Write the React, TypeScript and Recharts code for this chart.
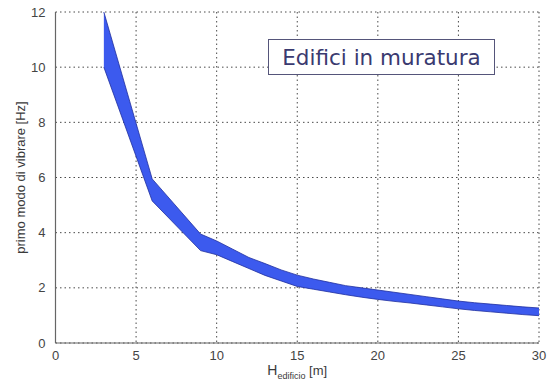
import React from "react";
import {
  ComposedChart,
  Area,
  XAxis,
  YAxis,
  CartesianGrid,
  Label,
} from "recharts";

const heights = [3, 6, 9, 10, 11, 12, 13, 14, 15, 16, 17, 18, 19, 20, 21, 22, 23, 24, 25, 26, 27, 28, 29, 30];
const upperFreq = [12, 5.95, 3.95, 3.7, 3.4, 3.1, 2.88, 2.65, 2.46, 2.32, 2.2, 2.08, 2.0, 1.92, 1.84, 1.76, 1.68, 1.6, 1.52, 1.46, 1.41, 1.36, 1.31, 1.27];
const lowerFreq = [10, 5.15, 3.35, 3.2, 2.95, 2.7, 2.45, 2.25, 2.05, 1.95, 1.85, 1.75, 1.66, 1.58, 1.51, 1.45, 1.38, 1.31, 1.24, 1.18, 1.13, 1.08, 1.03, 0.99];
const xTicks = [0, 5, 10, 15, 20, 25, 30];
const yTicks = [0, 2, 4, 6, 8, 10, 12];
const legendText = "Edifici in muratura";
const yLabel = "primo modo di vibrare [Hz]";

const data = heights.map((h, i) => ({ h, band: [lowerFreq[i], upperFreq[i]] }));

const FONT = "'Liberation Sans', Arial, sans-serif";

const XLabel = (props: any) => {
  const vb = props.viewBox || {};
  const cx = vb.x + vb.width / 2;
  const y = vb.y + vb.height + 2;
  return (
    <text x={cx} y={y} textAnchor="middle" fontFamily={FONT} fontSize={13} fill="#3a3a3a">
      <tspan fontSize={14}>H</tspan>
      <tspan fontSize={9} dy={4}>edificio</tspan>
      <tspan fontSize={13} dy={-4}> [m]</tspan>
    </text>
  );
};

const axisLine = { stroke: "#666", strokeWidth: 1.2 };

export default function App() {
  return (
    <div style={{ position: "absolute", left: 0, top: 0, width: 548, height: 381, background: "#fff" }}>
      <ComposedChart
        width={548}
        height={381}
        data={data}
        margin={{ top: 12, right: 9, bottom: 8, left: 0 }}
      >
        <CartesianGrid stroke="#4a4a4a" strokeDasharray="1.5 3" strokeWidth={1} />
        <XAxis
          dataKey="h"
          type="number"
          domain={[0, 30]}
          ticks={xTicks}
          height={30}
          axisLine={axisLine}
          tickLine={false}
          tick={{ fontFamily: FONT, fontSize: 13, fill: "#444" }}
          tickMargin={2}
        >
          <Label content={<XLabel />} />
        </XAxis>
        <XAxis
          xAxisId="top"
          orientation="top"
          dataKey="h"
          type="number"
          domain={[0, 30]}
          ticks={xTicks}
          height={0}
          axisLine={axisLine}
          tickLine={false}
          tick={false}
        />
        <YAxis
          type="number"
          domain={[0, 12]}
          ticks={yTicks}
          width={55.5}
          axisLine={axisLine}
          tickLine={false}
          tick={{ fontFamily: FONT, fontSize: 13, fill: "#444" }}
          tickMargin={4}
          allowDataOverflow
        >
          <Label
            value={yLabel}
            angle={-90}
            position="insideLeft"
            offset={0}
            style={{ fontFamily: FONT, fontSize: 13, fill: "#3a3a3a", textAnchor: "middle" }}
            dx={20}
          />
        </YAxis>
        <YAxis
          yAxisId="right"
          orientation="right"
          type="number"
          domain={[0, 12]}
          ticks={yTicks}
          width={0}
          axisLine={axisLine}
          tickLine={false}
          tick={false}
        />
        <Area
          type="linear"
          dataKey="band"
          fill="#3c5aee"
          fillOpacity={1}
          stroke="#1f2f9e"
          strokeWidth={0.8}
          isAnimationActive={false}
          dot={false}
          activeDot={false}
        />
      </ComposedChart>
      <div
        style={{
          position: "absolute",
          left: 268,
          top: 39,
          width: 227,
          height: 36,
          boxSizing: "border-box",
          border: "1.5px solid #55557a",
          background: "#fff",
          display: "flex",
          alignItems: "center",
          justifyContent: "center",
          fontFamily: "'DejaVu Sans', Verdana, sans-serif",
          fontSize: 21.5,
          color: "#3a3a70",
        }}
      >
        {legendText}
      </div>
    </div>
  );
}
